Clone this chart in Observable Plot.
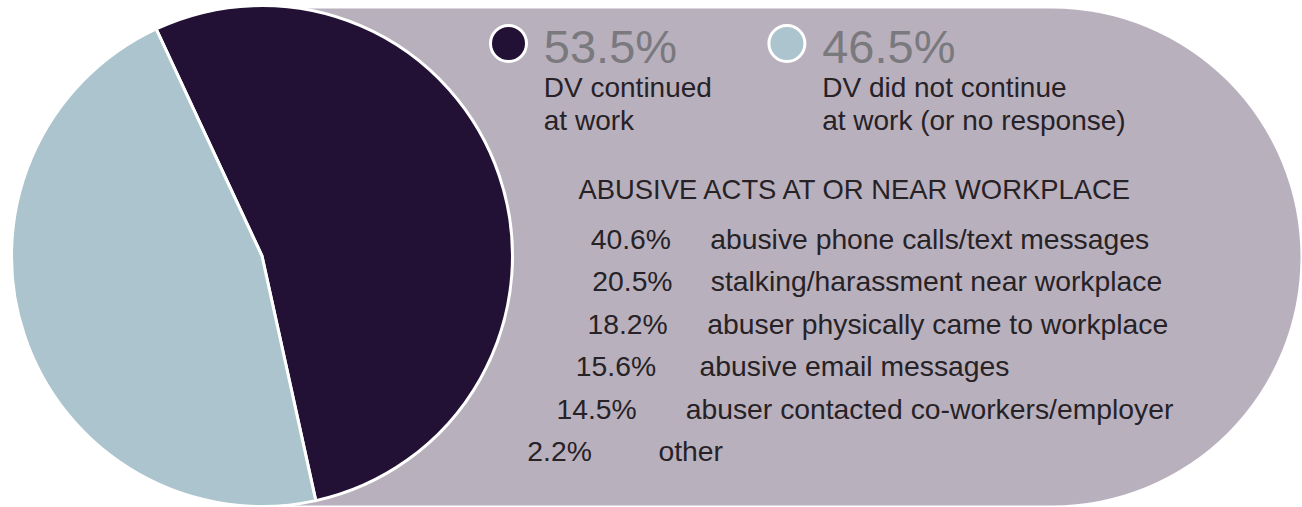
<!DOCTYPE html>
<html>
<head>
<meta charset="utf-8">
<script src="https://cdn.jsdelivr.net/npm/d3@7"></script>
<script src="https://cdn.jsdelivr.net/npm/@observablehq/plot@0.6"></script>
<style>
  html, body { margin: 0; padding: 0; background: #ffffff; }
  #chart svg { display: block; }
</style>
</head>
<body>
<div id="chart"></div>
<script>
// ---------- data ----------
const pieCategories = ["DV continued at work", "DV did not continue at work (or no response)"];
const pieValues = [53.5, 46.5];
const legendTexts = ["DV continued\nat work", "DV did not continue\nat work (or no response)"];
const actsHeading = "ABUSIVE ACTS AT OR NEAR WORKPLACE";
const actsValues = [40.6, 20.5, 18.2, 15.6, 14.5, 2.2];
const actsLabels = [
  "abusive phone calls/text messages",
  "stalking/harassment near workplace",
  "abuser physically came to workplace",
  "abusive email messages",
  "abuser contacted co-workers/employer",
  "other"
];

// ---------- style ----------
const palette = ["#221134", "#abc4cd"];
const MAUVE = "#b9b0be";
const TEXT = "#262226";
const GREY = "#7a797d";
const FONT = "'Liberation Sans', Arial, Helvetica, sans-serif";

// ---------- layout ----------
const W = 1302, H = 507;
const PIE = {cx: 262, cy: 256, r: 250.5, start: -25 * Math.PI / 180};
const LEGEND = {dotX: 508, dotY: 43, r: 18, textX: 543.3, step: 278.4, valueBase: 62, labelBase: 129};
const HEAD = {x: 578, y: 198, size: 27.4};
const ROWS = {base: 248.3, step: 42.5, size: 28.3,
  num: {cx: 308.5, cy: 270, a: 283.5, b: 283.5},
  lab: {cx: 627, cy: 265, a: 83.5, b: 200}};

const fmt = v => v.toFixed(1) + "%";
const rowBase = i => ROWS.base + i * ROWS.step;
// texts are indented along an elliptic arc that follows the pie's edge
const arcX = (c, y) => c.cx + c.a * Math.sqrt(Math.max(0, 1 - ((y - c.cy) / c.b) ** 2));

const pieData = pieCategories.map((c, i) => ({category: c, value: pieValues[i], text: legendTexts[i], i}));
const acts = actsValues.map((v, i) => ({value: v, label: actsLabels[i], i}));

// pie slices drawn with d3.pie/d3.arc, coloured through Plot's color scale
function pieMark(index, scales) {
  const slices = d3.pie().sort(null).value(d => d.value)
    .startAngle(PIE.start).endAngle(PIE.start + 2 * Math.PI)(pieData);
  const arc = d3.arc().innerRadius(0).outerRadius(PIE.r);
  const g = d3.create("svg:g").attr("transform", `translate(${PIE.cx},${PIE.cy})`);
  g.selectAll("path").data(slices).join("path")
    .attr("d", arc)
    .attr("fill", d => scales.color(d.data.category))
    .attr("stroke", "#ffffff")
    .attr("stroke-width", 3)
    .attr("stroke-linejoin", "round");
  return g.node();
}

const chart = Plot.plot({
  width: W,
  height: H,
  margin: 0,
  x: {type: "identity", axis: null},
  y: {type: "identity", axis: null},
  color: {domain: pieCategories, range: palette},
  style: {fontFamily: FONT, background: "#ffffff", overflow: "visible"},
  marks: [
    Plot.frame({fill: MAUVE, stroke: null, rx: (H - 10) / 2, ry: (H - 10) / 2,
      insetLeft: 14, insetTop: 8, insetBottom: 2, insetRight: 2}),
    pieMark,
    Plot.dot(pieData, {
      x: d => LEGEND.dotX + d.i * LEGEND.step, y: LEGEND.dotY,
      r: LEGEND.r, fill: "category", stroke: "#ffffff", strokeWidth: 3
    }),
    Plot.text(pieData, {
      x: d => LEGEND.textX + d.i * LEGEND.step, y: LEGEND.valueBase,
      text: d => fmt(d.value), textAnchor: "start", lineAnchor: "bottom",
      fontSize: 47, fill: GREY
    }),
    Plot.text(pieData, {
      x: d => LEGEND.textX + d.i * LEGEND.step, y: LEGEND.labelBase,
      text: "text", textAnchor: "start", lineAnchor: "bottom",
      fontSize: 28, lineHeight: 33 / 28, fill: TEXT
    }),
    Plot.text([actsHeading], {
      x: HEAD.x, y: HEAD.y, text: d => d, textAnchor: "start", lineAnchor: "bottom",
      fontSize: HEAD.size, fill: TEXT
    }),
    Plot.text(acts, {
      x: d => arcX(ROWS.num, rowBase(d.i) - 10), y: d => rowBase(d.i),
      text: d => fmt(d.value), textAnchor: "start", lineAnchor: "bottom",
      fontSize: ROWS.size, fill: TEXT
    }),
    Plot.text(acts, {
      x: d => arcX(ROWS.lab, rowBase(d.i) - 10), y: d => rowBase(d.i),
      text: "label", textAnchor: "start", lineAnchor: "bottom",
      fontSize: ROWS.size, fill: TEXT
    })
  ]
});

document.getElementById("chart").appendChild(chart);
</script>
</body>
</html>
